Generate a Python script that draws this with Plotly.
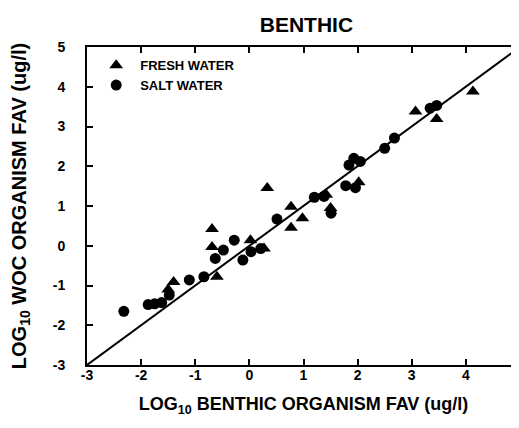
import plotly.graph_objects as go

# Salt water species (circles), log10 values
salt_x = [-2.32, -1.87, -1.75, -1.62, -1.48, -1.11, -0.84, -0.63, -0.48, -0.28,
          -0.12, 0.03, 0.21, 0.51, 1.20, 1.38, 1.51, 1.78, 1.96, 1.84, 1.93, 2.05,
          2.50, 2.68, 3.34, 3.46]
salt_y = [-1.65, -1.48, -1.46, -1.43, -1.24, -0.86, -0.78, -0.32, -0.11, 0.14,
          -0.36, -0.15, -0.07, 0.67, 1.22, 1.24, 0.82, 1.51, 1.46, 2.03, 2.20, 2.12,
          2.45, 2.71, 3.46, 3.53]

# Fresh water species (triangles)
fresh_x = [-1.40, -1.50, -0.69, -0.69, -0.60, 0.02, 0.27, 0.33, 0.77, 0.77,
           0.98, 1.42, 1.50, 2.02, 3.07, 3.46, 4.13]
fresh_y = [-0.91, -1.10, 0.42, -0.03, -0.78, 0.14, -0.07, 1.45, 0.98, 0.45,
           0.69, 1.28, 0.95, 1.60, 3.38, 3.19, 3.88]

# 1:1 reference line
line_x = [-3, 5]
line_y = [-3, 5]

tick_vals = [-3, -2, -1, 0, 1, 2, 3, 4, 5]
tick_text = ["-3", "-2", "-1", "0", "1", "2", "3", "4", "5"]

font_family = "Liberation Sans, Arial, sans-serif"

fig = go.Figure()

fig.add_trace(go.Scatter(x=line_x, y=line_y, mode="lines",
                         line=dict(color="black", width=2),
                         showlegend=False, hoverinfo="skip"))

fig.add_trace(go.Scatter(x=fresh_x, y=fresh_y, mode="markers", name="<b>FRESH WATER</b>",
                         marker=dict(symbol="triangle-up", size=12, color="black")))

fig.add_trace(go.Scatter(x=salt_x, y=salt_y, mode="markers", name="<b>SALT WATER</b>",
                         marker=dict(symbol="circle", size=11, color="black")))

fig.update_layout(
    width=519, height=428,
    margin=dict(l=79, r=3, t=39, b=71),
    paper_bgcolor="white", plot_bgcolor="white",
    font=dict(family=font_family, color="black", size=12),
    title=dict(text="<b>BENTHIC</b>", x=0.575, xanchor="center", y=0.96, yanchor="middle",
               font=dict(size=21, family=font_family)),
    legend=dict(x=0.012, y=0.99, xanchor="left", yanchor="top",
                bgcolor="rgba(0,0,0,0)", font=dict(size=13),
                itemwidth=38, tracegroupgap=0),
    showlegend=True,
)

bold_ticks = ["<b>" + t + "</b>" for t in tick_text]

fig.update_xaxes(range=[-3, 5], tickvals=tick_vals, ticktext=bold_ticks,
                 ticks="inside", ticklen=6, tickwidth=2, tickcolor="black",
                 showline=True, linewidth=2, linecolor="black", mirror="allticks",
                 showgrid=False, zeroline=False, ticklabelstandoff=-4,
                 ticklabeloverflow="allow",
                 tickfont=dict(size=14, family=font_family),
                 title=dict(text="<b>LOG<sub>10</sub> BENTHIC ORGANISM FAV (ug/l)</b>",
                            standoff=16, font=dict(size=18)))

fig.update_yaxes(range=[-3, 5], tickvals=tick_vals, ticktext=bold_ticks,
                 ticks="inside", ticklen=6, tickwidth=2, tickcolor="black",
                 showline=True, linewidth=2, linecolor="black", mirror="allticks",
                 showgrid=False, zeroline=False, ticklabelstandoff=17,
                 tickfont=dict(size=14, family=font_family),
                 title=dict(text="<b>LOG<sub>10</sub> WOC ORGANISM FAV (ug/l)</b>",
                            standoff=26, font=dict(size=20)))

fig.write_html("out.html")
